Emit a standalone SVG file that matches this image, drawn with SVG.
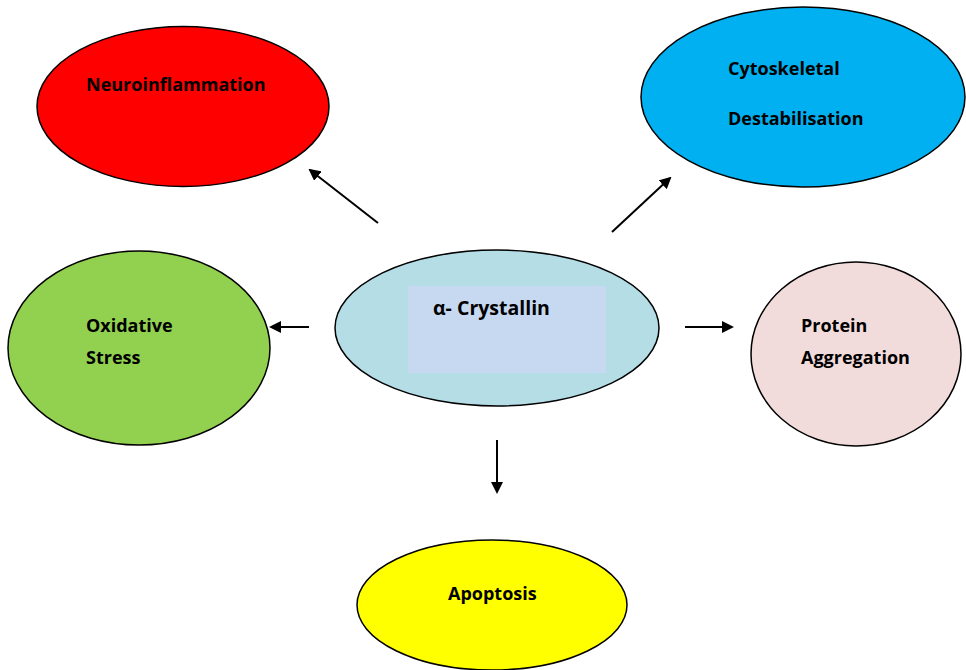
<svg xmlns="http://www.w3.org/2000/svg" width="966" height="670" viewBox="0 0 966 670">
<style>
.n{stroke:#000;stroke-width:1.5}
.t{font-family:"Open Sans","Liberation Sans",sans-serif;font-weight:bold;font-size:18px;fill:#000}
.c{stroke:#000;stroke-width:2;fill:none;marker-end:url(#ah)}
</style>
<defs>
<marker id="ah" markerWidth="12" markerHeight="12" refX="10" refY="6" orient="auto" markerUnits="userSpaceOnUse" viewBox="0 0 12 12">
<path d="M0,0 L12,6 L0,12 Z" fill="#000"/>
</marker>
</defs>
<rect width="966" height="670" fill="#fff"/>
<g id="connectors">
<line class="c" x1="378" y1="223" x2="310" y2="170"/>
<line class="c" x1="612" y1="232" x2="670" y2="178"/>
<line class="c" x1="309" y1="327" x2="271" y2="327"/>
<line class="c" x1="685" y1="327" x2="732" y2="327"/>
<line class="c" x1="497" y1="440" x2="497" y2="492"/>
</g>
<g id="neuroinflammation">
<ellipse class="n" cx="183" cy="106.5" rx="146" ry="80" fill="#ff0000"/>
<text class="t" x="86" y="91">Neuroinflammation</text>
</g>
<g id="cytoskeletal">
<ellipse class="n" cx="803" cy="97" rx="162" ry="90" fill="#00b0f0"/>
<text class="t" x="728" y="75">Cytoskeletal</text>
<text class="t" x="728" y="125">Destabilisation</text>
</g>
<g id="oxidative">
<ellipse class="n" cx="139" cy="348" rx="131" ry="97" fill="#92d050"/>
<text class="t" x="86" y="332">Oxidative</text>
<text class="t" x="86" y="364">Stress</text>
</g>
<g id="crystallin">
<ellipse class="n" cx="497" cy="328" rx="162" ry="78" fill="#b4dde6"/>
<rect x="408" y="286" width="198" height="87" fill="#c6d9f0"/>
<text class="t" x="433" y="315" style="font-size:19.5px">α- Crystallin</text>
</g>
<g id="protein">
<ellipse class="n" cx="856" cy="354" rx="105" ry="92" fill="#f2dcdb"/>
<text class="t" x="801" y="332">Protein</text>
<text class="t" x="801" y="364">Aggregation</text>
</g>
<g id="apoptosis">
<ellipse class="n" cx="492" cy="605" rx="135" ry="65" fill="#ffff00"/>
<text class="t" x="448" y="600">Apoptosis</text>
</g>
</svg>
